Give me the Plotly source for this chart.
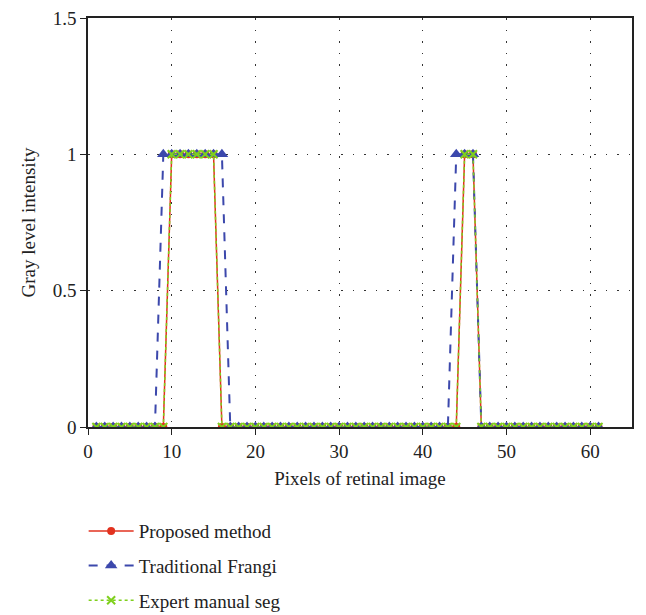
import plotly.graph_objects as go

pixels = list(range(1, 62))
proposed = [0]*9 + [1]*6 + [0]*29 + [1]*2 + [0]*15
frangi = [0]*8 + [1]*8 + [0]*27 + [1]*3 + [0]*15
expert = [0]*9 + [1]*6 + [0]*29 + [1]*2 + [0]*15

FONT = "Liberation Serif"
GRID_DASH = "1.5px,10px"

fig = go.Figure()
fig.add_trace(go.Scatter(x=pixels, y=proposed, mode="lines+markers", name="Proposed method",
                         legendgroup="a",
                         line=dict(color="#e2321f", width=1.5),
                         marker=dict(symbol="circle", size=8, color="#e2321f")))
fig.add_trace(go.Scatter(x=pixels, y=frangi, mode="lines+markers", name="Traditional Frangi",
                         legendgroup="b",
                         line=dict(color="#3c48ac", width=2, dash="dash"),
                         marker=dict(symbol="triangle-up", size=11, color="#3c48ac")))
fig.add_trace(go.Scatter(x=pixels, y=expert, mode="lines+markers", name="Expert manual seg",
                         legendgroup="c",
                         line=dict(color="#7fd01c", width=1.5, dash="dot"),
                         marker=dict(symbol="x-thin", size=8, color="#7fd01c",
                                     line=dict(color="#7fd01c", width=2))))

fig.update_layout(
    width=646, height=640,
    margin=dict(l=80, r=22, t=10, b=221),
    paper_bgcolor="white", plot_bgcolor="white",
    font=dict(family=FONT, size=19, color="#222222"),
    showlegend=True,
    legend=dict(x=-0.008, y=-0.208, xanchor="left", yanchor="top",
                orientation="v", tracegroupgap=7, itemwidth=45,
                font=dict(family=FONT, size=19, color="#222222"),
                bgcolor="rgba(0,0,0,0)"),
    xaxis=dict(range=[0, 65], tickvals=[0, 10, 20, 30, 40, 50, 60],
               showgrid=True, gridcolor="#333333", griddash=GRID_DASH, gridwidth=1,
               showline=True, linecolor="#222222", linewidth=1.5, mirror=True,
               ticks="outside", ticklen=6, tickcolor="#222222",
               zeroline=False, automargin=False, ticklabeloverflow="allow",
               tickfont=dict(family=FONT, size=19),
               title=dict(text="Pixels of retinal image", font=dict(family=FONT, size=19), standoff=11)),
    yaxis=dict(range=[0, 1.5], tickvals=[0, 0.5, 1, 1.5], ticktext=["0", "0.5", "1", "1.5"],
               showgrid=True, gridcolor="#333333", griddash=GRID_DASH, gridwidth=1,
               showline=True, linecolor="#222222", linewidth=1.5, mirror=True,
               ticks="outside", ticklen=6, tickcolor="#222222",
               zeroline=False, automargin=False, ticklabeloverflow="allow",
               tickfont=dict(family=FONT, size=19),
               title=dict(text="Gray level intensity", font=dict(family=FONT, size=19), standoff=12)),
)

fig.write_html("out.html")
